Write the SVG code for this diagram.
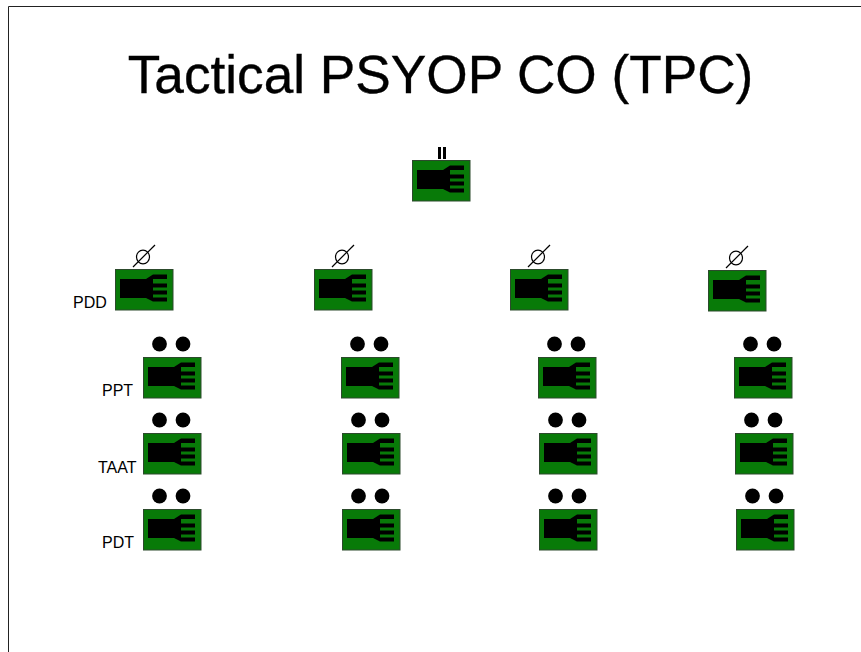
<svg xmlns="http://www.w3.org/2000/svg" width="861" height="652" viewBox="0 0 861 652">
<style>
text{font-family:"Liberation Sans",Arial,sans-serif;fill:#000}
.t{font-size:53.200px;stroke:#000;stroke-width:.35}
.l{font-size:16px}
.box{fill:#087a08;stroke:#2c4a2c;stroke-width:1}
.hand{fill:#000}
.cell{fill:none;stroke:#000;stroke-width:1.200}
</style>
<defs>
<g id="sym">
<rect class="box" x="0.500" y="0.500" width="57.500" height="40.500"/>
<path class="hand" d="M5 10H31L38 5.500H52V10H38V14.500H52V18.500H38V21.500H52V25.500H38V28.500H52V32.500H38L31 29H5Z"/>
</g>
<g id="dots"><circle cx="16.500" cy="-13" r="7.400"/><circle cx="40" cy="-13" r="7.400"/></g>
<g id="cell"><ellipse class="cell" cx="28" cy="-12" rx="6.500" ry="6.800"/><path class="cell" d="M18-2L40-24"/></g>
</defs>
<rect width="861" height="652" fill="#fff"/>
<path d="M8.500 652V6.500H861" fill="none" stroke="#222" stroke-width="1"/>
<text class="t" x="440.500" y="93" text-anchor="middle">Tactical PSYOP CO (TPC)</text>
<g id="hq" transform="translate(412 160)"><use href="#sym"/><rect x="26" y="-13" width="3" height="12"/><rect x="31" y="-13" width="3" height="12"/></g>
<g id="pdd1" transform="translate(115 269)"><use href="#sym"/><use href="#cell"/></g>
<g id="pdd2" transform="translate(314 269)"><use href="#sym"/><use href="#cell"/></g>
<g id="pdd3" transform="translate(510 269)"><use href="#sym"/><use href="#cell"/></g>
<g id="pdd4" transform="translate(708 270)"><use href="#sym"/><use href="#cell"/></g>
<g id="ppt1" transform="translate(143 357)"><use href="#sym"/><use href="#dots"/></g>
<g id="ppt2" transform="translate(341 357)"><use href="#sym"/><use href="#dots"/></g>
<g id="ppt3" transform="translate(538 357)"><use href="#sym"/><use href="#dots"/></g>
<g id="ppt4" transform="translate(734 357)"><use href="#sym"/><use href="#dots"/></g>
<g id="taat1" transform="translate(143 433)"><use href="#sym"/><use href="#dots"/></g>
<g id="taat2" transform="translate(342 433)"><use href="#sym"/><use href="#dots"/></g>
<g id="taat3" transform="translate(539 433)"><use href="#sym"/><use href="#dots"/></g>
<g id="taat4" transform="translate(735 433)"><use href="#sym"/><use href="#dots"/></g>
<g id="pdt1" transform="translate(143 509)"><use href="#sym"/><use href="#dots"/></g>
<g id="pdt2" transform="translate(342 509)"><use href="#sym"/><use href="#dots"/></g>
<g id="pdt3" transform="translate(539 509)"><use href="#sym"/><use href="#dots"/></g>
<g id="pdt4" transform="translate(736 509)"><use href="#sym"/><use href="#dots"/></g>
<g id="labels">
<text class="l" x="73" y="308">PDD</text>
<text class="l" x="102" y="396">PPT</text>
<text class="l" x="98" y="473">TAAT</text>
<text class="l" x="102" y="548">PDT</text>
</g>
<g id="connectors"/>
</svg>
